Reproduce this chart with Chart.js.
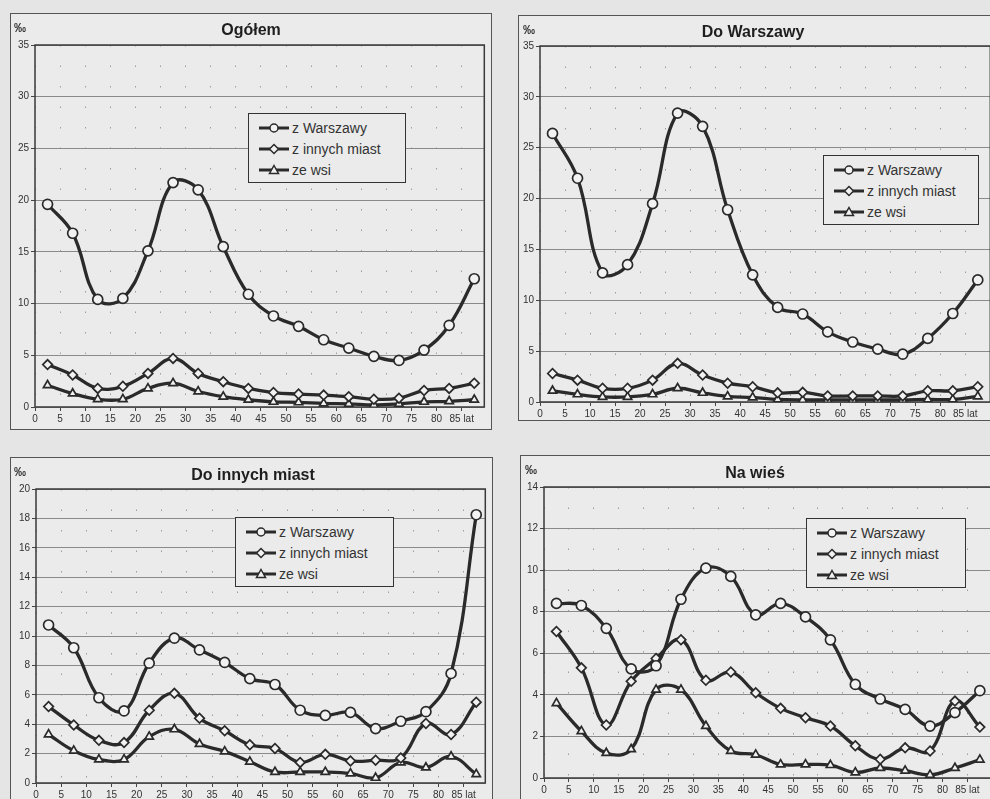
<!DOCTYPE html>
<html lang="pl">
<head>
<meta charset="utf-8">
<title>Migracje wg wieku</title>
<script src="https://cdn.jsdelivr.net/npm/chart.js@4.4.1/dist/chart.umd.min.js"></script>
<style>
    html, body { margin: 0; padding: 0; }
    body {
        width: 990px; height: 799px; overflow: hidden; position: relative;
        background: #e5e5e5;
        font-family: 'Liberation Sans', Arial, sans-serif;
        color: #222;
    }
    .panel {
        position: absolute; box-sizing: border-box;
        border: 1px solid #555; background: #ebebeb;
    }
    .panel canvas { position: absolute; left: 0; top: 0; }
    .title {
        position: absolute; font-weight: bold; font-size: 16px;
        transform: translate(-50%, -50%); white-space: nowrap; color: #1e1e1e;
    }
    .permille {
        position: absolute; font-size: 12px; font-weight: bold; color: #333;
        transform: translate(0, -50%);
    }
    .legend {
        position: absolute; box-sizing: border-box;
        border: 1px solid #333; background: #ebebeb;
        padding: 3px 0 0 8px;
    }
    .legend .row { height: 21px; display: flex; align-items: center; font-size: 14px; color: #333; }
    .legend svg { margin-right: 1px; }
</style>
</head>
<body>

<div class="panel" id="p1"><canvas id="c1"></canvas></div>
<div class="panel" id="p2"><canvas id="c2"></canvas></div>
<div class="panel" id="p3"><canvas id="c3"></canvas></div>
<div class="panel" id="p4"><canvas id="c4"></canvas></div>

<div class="title" style="left:251px; top:30px;">Ogółem</div>
<div class="title" style="left:753px; top:32px;">Do Warszawy</div>
<div class="title" style="left:253px; top:475px;">Do innych miast</div>
<div class="title" style="left:755px; top:473px;">Na wieś</div>

<div class="permille" style="left:14px; top:28px;">‰</div>
<div class="permille" style="left:523px; top:30px;">‰</div>
<div class="permille" style="left:14px; top:472px;">‰</div>
<div class="permille" style="left:525px; top:470px;">‰</div>

<div class="legend" id="l1" style="left:248px; top:113px; width:158px; height:70px;"></div>
<div class="legend" id="l2" style="left:823px; top:155px; width:156px; height:70px;"></div>
<div class="legend" id="l3" style="left:235px; top:517px; width:159px; height:70px;"></div>
<div class="legend" id="l4" style="left:806px; top:518px; width:160px; height:70px;"></div>

<script>
// grupy wieku (środki przedziałów 5-letnich)
const ageMid = [2.5, 7.5, 12.5, 17.5, 22.5, 27.5, 32.5, 37.5, 42.5, 47.5, 52.5, 57.5, 62.5, 67.5, 72.5, 77.5, 82.5, 87.5];
const xTickValues = [0, 5, 10, 15, 20, 25, 30, 35, 40, 45, 50, 55, 60, 65, 70, 75, 80, 85];
const xTickLabels = ['0', '5', '10', '15', '20', '25', '30', '35', '40', '45', '50', '55', '60', '65', '70', '75', '80', '85 lat'];
const seriesNames = ['z Warszawy', 'z innych miast', 'ze wsi'];
const seriesMarkers = ['circle', 'rectRot', 'triangle'];

// Ogółem
const ogolemZWarszawy = [19.6, 16.8, 10.4, 10.5, 15.1, 21.7, 21.0, 15.5, 10.9, 8.8, 7.8, 6.5, 5.7, 4.9, 4.5, 5.5, 7.9, 12.4];
const ogolemZMiast = [4.1, 3.1, 1.8, 2.0, 3.25, 4.7, 3.25, 2.45, 1.8, 1.4, 1.25, 1.15, 1.0, 0.75, 0.85, 1.6, 1.8, 2.3];
const ogolemZeWsi = [2.1, 1.3, 0.75, 0.75, 1.8, 2.3, 1.5, 1.0, 0.7, 0.5, 0.45, 0.35, 0.3, 0.2, 0.3, 0.5, 0.55, 0.7];

// Do Warszawy
const doWarszawyZWarszawy = [26.4, 22.0, 12.7, 13.5, 19.5, 28.4, 27.1, 18.9, 12.5, 9.3, 8.65, 6.9, 5.9, 5.2, 4.7, 6.25, 8.7, 12.0];
const doWarszawyZMiast = [2.8, 2.15, 1.35, 1.35, 2.15, 3.8, 2.65, 1.85, 1.5, 0.9, 0.95, 0.6, 0.6, 0.6, 0.6, 1.1, 1.1, 1.5];
const doWarszawyZeWsi = [1.1, 0.75, 0.5, 0.5, 0.75, 1.35, 0.9, 0.55, 0.45, 0.25, 0.2, 0.2, 0.2, 0.2, 0.2, 0.25, 0.25, 0.55];

// Do innych miast
const doMiastZWarszawy = [10.75, 9.2, 5.8, 4.9, 8.15, 9.85, 9.05, 8.2, 7.1, 6.7, 4.95, 4.6, 4.8, 3.7, 4.2, 4.85, 7.45, 18.25];
const doMiastZMiast = [5.2, 3.95, 2.9, 2.75, 4.95, 6.1, 4.4, 3.55, 2.6, 2.35, 1.4, 1.95, 1.5, 1.55, 1.7, 4.05, 3.3, 5.5];
const doMiastZeWsi = [3.3, 2.2, 1.6, 1.6, 3.15, 3.65, 2.65, 2.15, 1.45, 0.75, 0.75, 0.75, 0.65, 0.35, 1.4, 1.05, 1.8, 0.6];

// Na wieś
const naWiesZWarszawy = [8.4, 8.3, 7.2, 5.25, 5.4, 8.6, 10.1, 9.7, 7.85, 8.4, 7.75, 6.65, 4.5, 3.8, 3.3, 2.5, 3.15, 4.2];
const naWiesZMiast = [7.05, 5.3, 2.55, 4.65, 5.75, 6.65, 4.7, 5.1, 4.1, 3.35, 2.9, 2.5, 1.55, 0.9, 1.45, 1.3, 3.7, 2.45];
const naWiesZeWsi = [3.6, 2.25, 1.2, 1.38, 4.25, 4.25, 2.5, 1.3, 1.12, 0.65, 0.65, 0.62, 0.27, 0.48, 0.35, 0.15, 0.48, 0.88];

const LINE = '#2a2a2a';
const MARKER_FILL = '#f2f2f2';

Chart.defaults.font.family = "'Liberation Sans', Arial, sans-serif";
Chart.defaults.font.size = 10;
Chart.defaults.color = '#333';

// ramka obszaru wykresu (jak w Excelu)
const plotFrame = {
    id: 'plotFrame',
    beforeDatasetsDraw(chart) {
        const a = chart.chartArea;
        const ctx = chart.ctx;
        ctx.save();
        ctx.strokeStyle = '#3a3a3a';
        ctx.lineWidth = 1.5;
        ctx.strokeRect(a.left, a.top, a.right - a.left, a.bottom - a.top);
        ctx.restore();
    }
};

function toPoints(values) {
    return values.map((v, i) => ({ x: ageMid[i], y: v }));
}

function makeDataset(label, values, marker) {
    return {
        label: label,
        data: toPoints(values),
        borderColor: LINE,
        borderWidth: 3.3,
        tension: 0.4,
        pointStyle: marker,
        pointRadius: marker === 'circle' ? 5 : 4.8,
        pointBackgroundColor: MARKER_FILL,
        pointBorderColor: LINE,
        pointBorderWidth: 1.7
    };
}

function renderPanel(n, box, plot, yMax, yStep, xMax, series) {
    const panel = document.getElementById('p' + n);
    panel.style.left = box.l + 'px';
    panel.style.top = box.t + 'px';
    panel.style.width = box.w + 'px';
    panel.style.height = box.h + 'px';

    const canvas = document.getElementById('c' + n);
    const cw = box.w - 2, ch = box.h - 2;
    canvas.width = cw;
    canvas.height = ch;

    const ox = box.l + 1, oy = box.t + 1;
    const left = plot.l - ox, top = plot.t - oy, right = plot.r - ox, bottom = plot.b - oy;
    const xAxisH = 16;

    new Chart(canvas.getContext('2d'), {
        type: 'line',
        data: {
            datasets: series.map((vals, i) => makeDataset(seriesNames[i], vals, seriesMarkers[i]))
        },
        options: {
            responsive: false,
            animation: false,
            layout: { padding: { left: 0, top: top, right: cw - right, bottom: ch - bottom - xAxisH } },
            plugins: { legend: { display: false }, tooltip: { enabled: false } },
            scales: {
                x: {
                    type: 'linear',
                    min: 0,
                    max: xMax,
                    afterBuildTicks: scale => { scale.ticks = xTickValues.map(v => ({ value: v })); },
                    afterFit: scale => { scale.height = xAxisH; },
                    ticks: {
                        autoSkip: false,
                        maxRotation: 0,
                        padding: 2,
                        callback: (v, i) => xTickLabels[i]
                    },
                    grid: {
                        color: '#9c9c9c',
                        lineWidth: 1,
                        tickLength: 4,
                        tickColor: '#444'
                    },
                    border: { display: false, dash: [1.5, 19] }
                },
                y: {
                    min: 0,
                    max: yMax,
                    afterFit: scale => { scale.width = left; },
                    ticks: { stepSize: yStep, padding: 2 },
                    grid: {
                        color: '#8a8a8a',
                        lineWidth: 1,
                        tickLength: 4,
                        tickColor: '#444'
                    },
                    border: { display: false }
                }
            }
        },
        plugins: [plotFrame]
    });
}

function renderLegend(n) {
    const box = document.getElementById('l' + n);
    seriesNames.forEach((name, i) => {
        let mark;
        if (seriesMarkers[i] === 'circle') {
            mark = '<circle cx="17" cy="7" r="4" fill="' + MARKER_FILL + '" stroke="' + LINE + '" stroke-width="1.5"/>';
        } else if (seriesMarkers[i] === 'rectRot') {
            mark = '<polygon points="17,2.5 21.5,7 17,11.5 12.5,7" fill="' + MARKER_FILL + '" stroke="' + LINE + '" stroke-width="1.5"/>';
        } else {
            mark = '<polygon points="17,2.5 21.5,10.5 12.5,10.5" fill="' + MARKER_FILL + '" stroke="' + LINE + '" stroke-width="1.5"/>';
        }
        const row = document.createElement('div');
        row.className = 'row';
        row.innerHTML = '<svg width="34" height="14"><line x1="2" y1="7" x2="32" y2="7" stroke="' + LINE +
            '" stroke-width="3"/>' + mark + '</svg><span>' + name + '</span>';
        box.appendChild(row);
    });
}

renderPanel(1, { l: 10, t: 13, w: 482, h: 417 }, { l: 35, t: 45, r: 490, b: 407 }, 35, 5, 89.5,
    [ogolemZWarszawy, ogolemZMiast, ogolemZeWsi]);
renderPanel(2, { l: 518, t: 15, w: 480, h: 406 }, { l: 540, t: 46, r: 992, b: 402 }, 35, 5, 90,
    [doWarszawyZWarszawy, doWarszawyZMiast, doWarszawyZeWsi]);
renderPanel(3, { l: 10, t: 457, w: 483, h: 350 }, { l: 36, t: 489, r: 491, b: 783 }, 20, 2, 89.3,
    [doMiastZWarszawy, doMiastZMiast, doMiastZeWsi]);
renderPanel(4, { l: 520, t: 455, w: 480, h: 350 }, { l: 544, t: 487, r: 995, b: 778 }, 14, 2, 90,
    [naWiesZWarszawy, naWiesZMiast, naWiesZeWsi]);

[1, 2, 3, 4].forEach(renderLegend);
</script>
</body>
</html>
